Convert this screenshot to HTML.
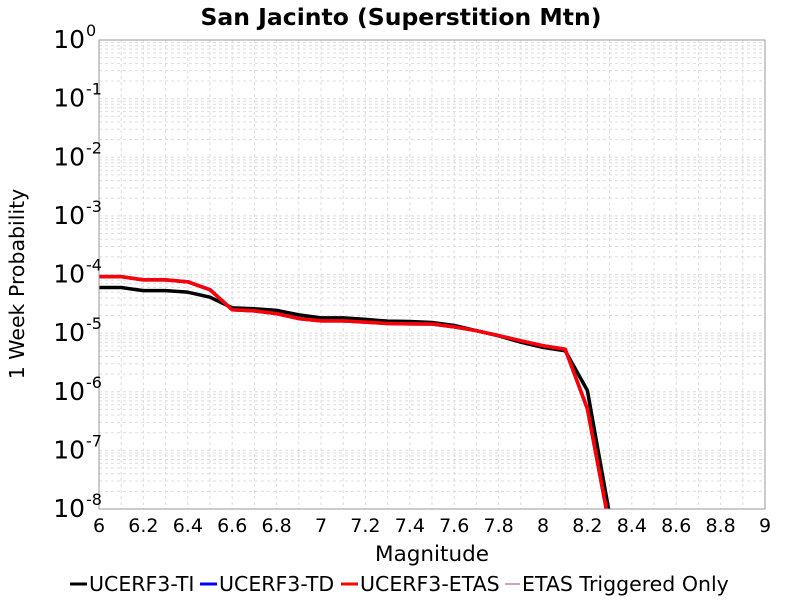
<!DOCTYPE html>
<html><head><meta charset="utf-8"><style>
body{margin:0;background:#fff;}
svg text{font-family:"DejaVu Sans","Liberation Sans",sans-serif;}
</style></head><body>
<svg id="chart" width="800" height="600" xmlns="http://www.w3.org/2000/svg">
<rect width="800" height="600" fill="#fff"/>
<text x="401" y="25" text-anchor="middle" font-size="23.5" font-weight="bold">San Jacinto (Superstition Mtn)</text>
<g id="grid"></g>
<g id="series"></g>
<rect x="99" y="40" width="666" height="469" fill="none" stroke="#999" stroke-width="1"/>
<g id="axes"></g>
<text x="432" y="561" text-anchor="middle" font-size="21.5">Magnitude</text>
<text transform="translate(24,284) rotate(-90)" text-anchor="middle" font-size="20.5">1 Week Probability</text>
<g>
<g><line x1="70" y1="584" x2="87" y2="584" stroke="#000" stroke-width="3"/><text x="89" y="591" font-size="20.5">UCERF3-TI</text></g>
<g><line x1="200" y1="584" x2="217" y2="584" stroke="#00f" stroke-width="3"/><text x="219" y="591" font-size="20.5">UCERF3-TD</text></g>
<g><line x1="341" y1="584" x2="358" y2="584" stroke="#f00" stroke-width="3"/><text x="360" y="591" font-size="20.5">UCERF3-ETAS</text></g>
<g><line x1="505" y1="584" x2="520" y2="584" stroke="#a04080" stroke-width="1"/><text x="522" y="591" font-size="20.5">ETAS Triggered Only</text></g>
</g>
</svg>
<script>
const mags = [6.0,6.1,6.2,6.3,6.4,6.5,6.6,6.7,6.8,6.9,7.0,7.1,7.2,7.3,7.4,7.5,7.6,7.7,7.8,7.9,8.0,8.1,8.2,8.3];
const tiValues = [6.0e-5,6.0e-5,5.3e-5,5.3e-5,5.0e-5,4.1e-5,2.7e-5,2.6e-5,2.45e-5,2.05e-5,1.82e-5,1.82e-5,1.72e-5,1.6e-5,1.58e-5,1.52e-5,1.35e-5,1.1e-5,9.0e-6,7.0e-6,5.7e-6,5.0e-6,1.05e-6,8e-9];
const tdValues = [9.2e-5,9.2e-5,8.1e-5,8.1e-5,7.5e-5,5.5e-5,2.5e-5,2.4e-5,2.15e-5,1.77e-5,1.62e-5,1.62e-5,1.54e-5,1.46e-5,1.44e-5,1.43e-5,1.28e-5,1.1e-5,9.1e-6,7.4e-6,6.1e-6,5.3e-6,5.1e-7,5e-9];
const etasValues = [9.2e-5,9.2e-5,8.1e-5,8.1e-5,7.5e-5,5.5e-5,2.5e-5,2.4e-5,2.15e-5,1.77e-5,1.62e-5,1.62e-5,1.54e-5,1.46e-5,1.44e-5,1.43e-5,1.28e-5,1.1e-5,9.1e-6,7.4e-6,6.1e-6,5.3e-6,5.1e-7,5e-9];
const xTicks = ["6","6.2","6.4","6.6","6.8","7","7.2","7.4","7.6","7.8","8","8.2","8.4","8.6","8.8","9"];
const yExps = [0,-1,-2,-3,-4,-5,-6,-7,-8];

const L=99,R=765,T=40,B=509, xMin=6,xMax=9, yTop=0,yBot=-8;
const NS="http://www.w3.org/2000/svg";
function xs(v){return L+(v-xMin)/(xMax-xMin)*(R-L);}
function ys(v){let l=Math.log10(v);return T+(yTop-l)/(yTop-yBot)*(B-T);}
function mk(tag,attrs,parent){const e=document.createElementNS(NS,tag);for(const k in attrs)e.setAttribute(k,attrs[k]);parent.appendChild(e);return e;}
const grid=document.getElementById('grid'),axes=document.getElementById('axes'),series=document.getElementById('series');
const clip=mk('clipPath',{id:'pc'},document.getElementById('chart'));
mk('rect',{x:L,y:T,width:R-L,height:B-T},clip);
for(let i=0;i<=30;i++){const x=xs(xMin+i*0.1);
 const g=mk('line',{x1:x,x2:x,y1:T,y2:B,stroke:'#ddd','stroke-dasharray':'3,3','stroke-width':1},grid);
 
 }
for(let e=-8;e<0;e++){for(let m=1;m<10;m++){const y=ys(m*Math.pow(10,e));
 const g=mk('line',{x1:L,x2:R,y1:y,y2:y,stroke:'#ddd','stroke-dasharray':'3,3','stroke-width':1},grid);
 
 }}
xTicks.forEach(t=>{const x=xs(parseFloat(t));
 const tx=mk('text',{x:x,y:532,'text-anchor':'middle','font-size':19},axes);tx.textContent=t;
 
 });
yExps.forEach(e=>{const y=ys(Math.pow(10,e));
 const tx=mk('text',{x:85,y:y+8,'text-anchor':'end','font-size':25},axes);tx.textContent='10';
 
 
 const sp=mk('text',{x:86,y:y-4,'font-size':16},axes);sp.textContent=String(e);
 
 });
function line(vals,color,w,name){
 const pts=mags.map((m,i)=>xs(m)+','+ys(vals[i])).join(' ');
 const p=mk('polyline',{points:pts,fill:'none',stroke:color,'stroke-width':w,'stroke-linejoin':'round','clip-path':'url(#pc)'},series);
 
 }
line(tiValues,'#000',3.5,'ucerf3-ti-line');
line(tdValues,'#00f',3.5,'ucerf3-td-line');
line(etasValues,'#f00',3.5,'ucerf3-etas-line');
</script>
</body></html>
